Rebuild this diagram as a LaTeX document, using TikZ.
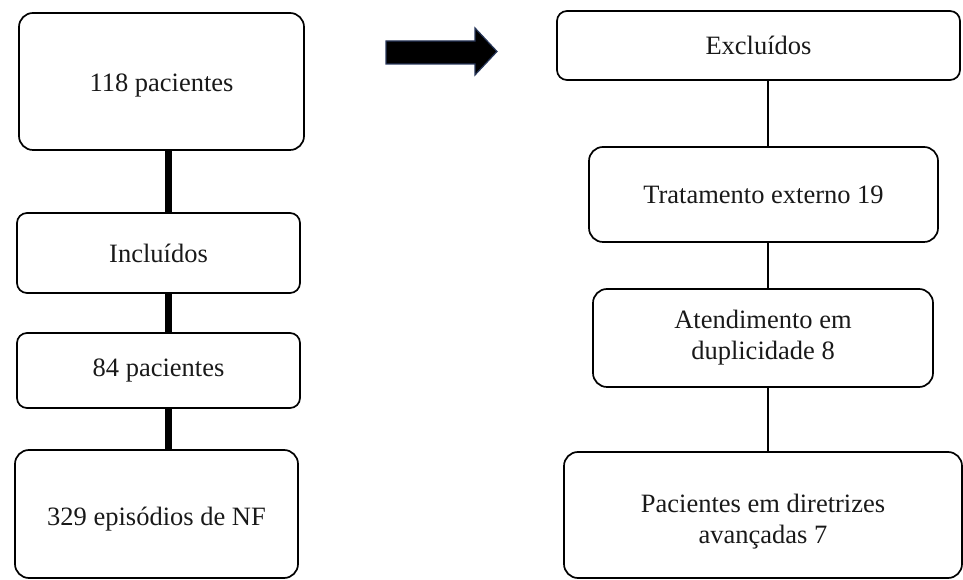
\documentclass[tikz,border=0pt]{standalone}
\usepackage{fontspec}
\setmainfont{Liberation Serif}
\begin{document}
\begin{tikzpicture}[x=1pt,y=1pt,
  txt/.style={align=center, inner sep=0pt, font=\fontsize{26.5}{31}\selectfont, text=black!90},
  boxA/.style={txt, draw=black, line width=1.7pt, rounded corners=14pt},
  boxB/.style={txt, draw=black, line width=1.7pt, rounded corners=10pt},
  thickconn/.style={line width=7pt, black},
  thinconn/.style={line width=1.7pt, black}]
\useasboundingbox (0,0) rectangle (963,580);
% left column
\node[boxA, minimum width=285pt, minimum height=137pt] (b1) at (161.5,498.5) {};
\node[txt] (b1t) at ([yshift=-4pt]b1.center) {118 pacientes};
\node[boxB, minimum width=283pt, minimum height=80pt] (b2) at (158.5,327) {Inclu\'idos};
\node[boxB, minimum width=283pt, minimum height=75pt] (b3) at (158.5,209.5) {84 pacientes};
\node[boxA, minimum width=283pt, minimum height=128pt] (b4) at (156.5,66) {};
\node[txt] (b4t) at ([yshift=-5pt]b4.center) {329 epis\'odios de NF};
\coordinate (lx) at (168,0);
\draw[thickconn] (b1.south -| lx) -- (b2.north -| lx);
\draw[thickconn] (b2.south -| lx) -- (b3.north -| lx);
\draw[thickconn] (b3.south -| lx) -- (b4.north -| lx);
% right column
\node[boxB, minimum width=403pt, minimum height=69pt] (r1) at (758.5,534.5) {Exclu\'idos};
\node[boxA, minimum width=349pt, minimum height=95pt] (r2) at (763.5,385.5) {Tratamento externo 19};
\node[boxA, minimum width=340pt, minimum height=98pt] (r3) at (763,242) {Atendimento em\\duplicidade 8};
\node[boxA, minimum width=398pt, minimum height=126pt] (r4) at (763,65) {};
\node[txt] (r4t) at ([yshift=-7pt]r4.center) {Pacientes em diretrizes\\avan\c{c}adas 7};
\coordinate (rx) at (768,0);
\draw[thinconn] (r1.south -| rx) -- (r2.north -| rx);
\draw[thinconn] (r2.south -| rx) -- (r3.north -| rx);
\draw[thinconn] (r3.south -| rx) -- (r4.north -| rx);
% block arrow
\coordinate (a1) at (386,539);
\coordinate (a2) at (475,539);
\coordinate (a3) at (475,552);
\coordinate (a4) at (497,528.5);
\coordinate (a5) at (475,505);
\coordinate (a6) at (475,516);
\coordinate (a7) at (386,516);
\draw[fill=black, draw={rgb,255:red,40;green,55;blue,90}, line width=1.2pt, line join=miter] (a1) -- (a2) -- (a3) -- (a4) -- (a5) -- (a6) -- (a7) -- cycle;
\end{tikzpicture}
\end{document}
